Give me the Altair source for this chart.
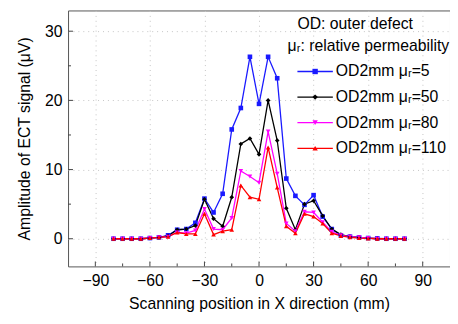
import altair as alt
import pandas as pd

# ---- data ----
x_pos = list(range(-80, 85, 5))  # scanning positions (mm)

series_names = ["OD2mm μᵣ=5", "OD2mm μᵣ=50", "OD2mm μᵣ=80", "OD2mm μᵣ=110"]
colors = ["#1a1aff", "#000000", "#ff00ff", "#ff0000"]
marker_shapes = ["square", "diamond", "triangle-down", "triangle-up"]

amp_mu5 = [0, 0, 0, 0, 0.1, 0.2, 0.5, 1.3, 1.4, 2.3, 5.8, 3.8, 6.5, 15.8, 18.9, 26.3, 19.5,
           26.3, 23.2, 8.7, 6.2, 4.9, 6.3, 3.2, 1.4, 0.5, 0.3, 0.2, 0.1, 0.05, 0, 0, 0]
amp_mu50 = [0, 0, 0, 0, 0.1, 0.2, 0.4, 1.3, 1.4, 1.9, 5.7, 2.9, 1.8, 6.0, 13.7, 14.5, 12.2,
            20.0, 14.2, 4.4, 1.3, 5.0, 5.5, 3.3, 1.4, 0.6, 0.3, 0.2, 0.1, 0, 0, 0, 0]
amp_mu80 = [0, 0, 0, 0, 0.1, 0.2, 0.3, 0.9, 0.8, 1.2, 4.3, 1.4, 1.3, 3.0, 9.8, 9.0, 8.1,
            15.5, 9.4, 2.2, 1.1, 3.9, 3.8, 2.4, 1.0, 0.5, 0.3, 0.2, 0.1, 0, 0, 0, 0]
amp_mu110 = [0, 0, 0, 0, 0.1, 0.2, 0.3, 0.9, 0.7, 0.7, 3.6, 0.6, 1.1, 1.3, 7.7, 6.0, 5.7,
             13.2, 7.4, 1.8, 0.8, 3.6, 3.2, 2.2, 0.8, 0.4, 0.2, 0.1, 0.05, 0, 0, 0, 0]

x_major = [-90, -60, -30, 0, 30, 60, 90]
x_minor = [-75, -45, -15, 15, 45, 75]
y_major = [0, 10, 20, 30]
y_minor = [5, 15, 25]

note_lines = ["OD: outer defect", "μᵣ: relative permeability"]

rows = []
for name, vals in zip(series_names, [amp_mu5, amp_mu50, amp_mu80, amp_mu110]):
    for xv, v in zip(x_pos, vals):
        rows.append({"x": xv, "amp": v, "series": name})
df = pd.DataFrame(rows)

FONT = "Liberation Sans"
W, H = 388, 260

x_scale = alt.Scale(domain=[-105, 105], nice=False, zero=False)
y_scale = alt.Scale(domain=[-4, 33], nice=False, zero=False)
color_scale = alt.Scale(domain=series_names, range=colors)

x_enc = alt.X("x:Q", scale=x_scale,
              axis=alt.Axis(values=x_major, title="Scanning position in X direction (mm)"))
y_enc = alt.Y("amp:Q", scale=y_scale,
              axis=alt.Axis(values=y_major, title="Amplitude of ECT signal (μV)"))

base = alt.Chart(df)

lines = base.mark_line(strokeWidth=1.3).encode(
    x=x_enc, y=y_enc,
    color=alt.Color("series:N", scale=color_scale, legend=None),
)

point_layers = []
for name, col, shp in zip(series_names, colors, marker_shapes):
    point_layers.append(
        base.transform_filter(alt.datum.series == name)
        .mark_point(filled=True, size=22, opacity=1, shape=shp, color=col)
        .encode(x=x_enc, y=y_enc)
    )

# ---- hand-drawn legend (line + marker + label), inside the plot, top right ----
one = pd.DataFrame({"k": [0]})
legend_layers = []
LX0, LX1, LTX, LY0, LDY = 233, 269, 272, 62, 26
for i, (name, col, shp) in enumerate(zip(series_names, colors, marker_shapes)):
    ly = LY0 + i * LDY
    legend_layers.append(alt.Chart(one).mark_rule(color=col, strokeWidth=1.3).encode(
        x=alt.value(LX0), x2=alt.value(LX1), y=alt.value(ly)))
    legend_layers.append(alt.Chart(one).mark_point(filled=True, size=30, opacity=1, shape=shp, color=col).encode(
        x=alt.value((LX0 + LX1) / 2), y=alt.value(ly)))
    legend_layers.append(alt.Chart(one).mark_text(
        align="left", baseline="middle", font=FONT, fontSize=16, color="black").encode(
        x=alt.value(LTX), y=alt.value(ly), text=alt.value(name)))

note_layers = []
for txt, nx, ny in zip(note_lines, [233, 223], [14, 36]):
    note_layers.append(alt.Chart(one).mark_text(
        align="left", baseline="middle", font=FONT, fontSize=16, color="black").encode(
        x=alt.value(nx), y=alt.value(ny), text=alt.value(txt)))

tick_color = "#444444"
xt_major = alt.Chart(pd.DataFrame({"x": x_major})).mark_rule(color=tick_color).encode(
    x=alt.X("x:Q", scale=x_scale), y=alt.value(H), y2=alt.value(H - 5))
xt_minor = alt.Chart(pd.DataFrame({"x": x_minor})).mark_rule(color=tick_color).encode(
    x=alt.X("x:Q", scale=x_scale), y=alt.value(H), y2=alt.value(H - 3))
yt_major = alt.Chart(pd.DataFrame({"amp": y_major})).mark_rule(color=tick_color).encode(
    y=alt.Y("amp:Q", scale=y_scale), x=alt.value(0), x2=alt.value(5))
yt_minor = alt.Chart(pd.DataFrame({"amp": y_minor})).mark_rule(color=tick_color).encode(
    y=alt.Y("amp:Q", scale=y_scale), x=alt.value(0), x2=alt.value(3))

chart = alt.layer(
    xt_major, xt_minor, yt_major, yt_minor, lines, *point_layers, *legend_layers, *note_layers
).properties(
    width=W, height=H,
    autosize=alt.AutoSizeParams(type="none"),
    padding={"left": 61, "top": 0, "right": 0, "bottom": 56},
).configure_view(
    stroke="#555555", strokeWidth=1
).configure_axis(
    domain=False, ticks=False, grid=True, gridDash=[1, 4], gridColor="#c4c4c4",
    labelFont=FONT, labelFontSize=16, labelColor="black", labelPadding=6,
    titleFont=FONT, titleFontSize=16, titleFontWeight="normal", titleColor="black",
).configure_axisX(titlePadding=8).configure_axisY(titlePadding=12)

chart.save("out.html", embed_options={"renderer": "svg", "actions": False})
